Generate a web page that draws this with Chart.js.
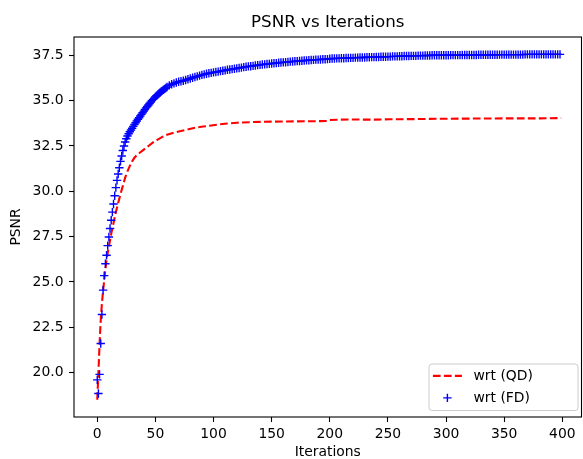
<!DOCTYPE html>
<html>
<head>
<meta charset="utf-8">
<script src="https://cdn.jsdelivr.net/npm/chart.js@4.4.1/dist/chart.umd.min.js"></script>
<style>
  html, body { margin: 0; padding: 0; background: #fff; }
  canvas { display: block; }
</style>
</head>
<body>
<canvas id="psnrChart" width="583" height="459"></canvas>
<script>
// psnr chart
const chartTitle = 'PSNR vs Iterations';
const xTitle = 'Iterations';
const yTitle = 'PSNR';
const seriesLabels = ['wrt (QD)', 'wrt (FD)'];
const xTicks = [0, 50, 100, 150, 200, 250, 300, 350, 400];
const yTicks = [20, 22.5, 25, 27.5, 30, 32.5, 35, 37.5];

// QD curve (dashed line)
const qdIter = [0, 1, 2, 3, 4, 5, 6, 7, 8, 9, 10, 11, 12, 13, 14, 15, 16, 17, 18, 19, 20,
    22, 24, 26, 28, 30, 32, 34, 36, 40, 44, 48, 52, 56, 60, 65, 70, 77, 84, 91, 98, 105, 112, 120,
    134, 150, 163, 180, 192, 198, 200, 209, 220, 235, 252, 270, 295, 320, 350, 381, 399];
const qdPsnr = [18.5, 20.0, 21.6, 22.9, 23.8, 24.5, 25.1, 25.7, 26.2, 26.6, 26.95, 27.3, 27.65, 27.95, 28.25, 28.55, 28.85, 29.1, 29.35, 29.6, 29.85,
    30.3, 30.75, 31.1, 31.4, 31.65, 31.85, 32.0, 32.1, 32.3, 32.5, 32.7, 32.85, 33.0, 33.12, 33.22, 33.3, 33.4, 33.5, 33.57, 33.63, 33.69, 33.74, 33.78,
    33.82, 33.84, 33.85, 33.86, 33.87, 33.88, 33.93, 33.95, 33.96, 33.95, 33.97, 33.98, 34.0, 34.01, 34.02, 34.02, 34.04];

// FD markers: every iteration 0..60
const fdEarly = [19.60, 18.85, 19.90, 21.60, 23.20, 24.55, 25.35, 26.00, 26.47, 27.00,
    27.48, 27.95, 28.40, 28.85, 29.30, 29.75, 30.20, 30.60, 30.95, 31.30,
    31.65, 31.95, 32.25, 32.50, 32.72, 32.90, 33.05, 33.17, 33.28, 33.38,
    33.48, 33.58, 33.68, 33.78, 33.88, 33.97, 34.06, 34.15, 34.24, 34.33,
    34.42, 34.51, 34.60, 34.68, 34.76, 34.84, 34.92, 35.00, 35.07, 35.14,
    35.21, 35.27, 35.33, 35.39, 35.45, 35.50, 35.55, 35.60, 35.65, 35.70,
    35.75];
// FD markers: every 2nd iteration 62..398
const fdLate = [35.84, 35.90, 35.95, 36.00, 36.04, 36.07, 36.10, 36.14, 36.18, 36.22,
    36.26, 36.30, 36.34, 36.38, 36.42, 36.45, 36.48, 36.51, 36.53, 36.56,
    36.58, 36.60, 36.63, 36.65, 36.67, 36.70, 36.72, 36.74, 36.76, 36.78,
    36.80, 36.82, 36.85, 36.87, 36.89, 36.90, 36.92, 36.94, 36.96, 36.97,
    36.99, 37.00, 37.02, 37.03, 37.05, 37.06, 37.07, 37.09, 37.10, 37.11,
    37.12, 37.13, 37.15, 37.16, 37.17, 37.18, 37.19, 37.20, 37.21, 37.22,
    37.23, 37.24, 37.25, 37.26, 37.26, 37.27, 37.28, 37.28, 37.29, 37.31,
    37.32, 37.32, 37.33, 37.33, 37.34, 37.34, 37.35, 37.35, 37.36, 37.36,
    37.37, 37.37, 37.38, 37.38, 37.38, 37.39, 37.39, 37.40, 37.40, 37.41,
    37.41, 37.42, 37.42, 37.42, 37.43, 37.43, 37.44, 37.44, 37.44, 37.45,
    37.45, 37.46, 37.46, 37.46, 37.47, 37.47, 37.47, 37.48, 37.48, 37.48,
    37.49, 37.49, 37.49, 37.50, 37.50, 37.50, 37.50, 37.50, 37.50, 37.50,
    37.50, 37.51, 37.51, 37.51, 37.51, 37.51, 37.52, 37.52, 37.52, 37.52,
    37.52, 37.52, 37.52, 37.53, 37.53, 37.53, 37.53, 37.53, 37.53, 37.53,
    37.53, 37.53, 37.54, 37.54, 37.54, 37.54, 37.54, 37.54, 37.54, 37.54,
    37.54, 37.54, 37.54, 37.55, 37.55, 37.55, 37.55, 37.55, 37.55, 37.55,
    37.55, 37.55, 37.55, 37.55, 37.55, 37.55, 37.55, 37.55, 37.55];

const FONT = "'DejaVu Sans', sans-serif";
const TXT = '#000';

const qdPoints = qdIter.map((it, i) => ({ x: it, y: qdPsnr[i] }));
const fdPoints = fdEarly.map((v, i) => ({ x: i, y: v }))
    .concat(fdLate.map((v, i) => ({ x: 62 + 2 * i, y: v })));

// axes frame (all four spines)
const framePlugin = {
    id: 'frame',
    afterDatasetsDraw(chart) {
        const { ctx, chartArea: a } = chart;
        ctx.save();
        ctx.strokeStyle = '#000';
        ctx.lineWidth = 1.1;
        ctx.strokeRect(a.left, a.top, a.right - a.left, a.bottom - a.top);
        ctx.restore();
    }
};

// title centred over the axes
const titlePlugin = {
    id: 'mplTitle',
    afterDraw(chart) {
        const { ctx, chartArea: a } = chart;
        ctx.save();
        ctx.font = `16.7px ${FONT}`;
        ctx.fillStyle = TXT;
        ctx.textAlign = 'center';
        ctx.textBaseline = 'alphabetic';
        ctx.fillText(chartTitle, (a.left + a.right) / 2, a.top - 10);
        ctx.restore();
    }
};

// legend box in the lower right of the axes
const legendPlugin = {
    id: 'mplLegend',
    afterDraw(chart) {
        const { ctx, chartArea: a } = chart;
        const w = 149, h = 46.5;
        const x = a.right - 4 - w, y = a.bottom - 7 - h;
        ctx.save();
        ctx.beginPath();
        ctx.roundRect(x + 0.5, y + 0.5, w, h, 3);
        ctx.fillStyle = 'rgba(255,255,255,0.8)';
        ctx.fill();
        ctx.strokeStyle = '#cccccc';
        ctx.lineWidth = 1;
        ctx.stroke();

        const ds = chart.data.datasets;
        const rows = [y + 12.4, y + 34.4];
        ds.forEach((d, i) => {
            const ry = rows[i];
            if (d.showLine !== false) {
                ctx.beginPath();
                ctx.setLineDash(d.borderDash || []);
                ctx.strokeStyle = d.borderColor;
                ctx.lineWidth = d.borderWidth;
                ctx.moveTo(x + 4.4, ry);
                ctx.lineTo(x + 33.4, ry);
                ctx.stroke();
                ctx.setLineDash([]);
            } else {
                const r = d.pointRadius, cx = x + 18.9;
                ctx.beginPath();
                ctx.strokeStyle = d.pointBorderColor;
                ctx.lineWidth = d.pointBorderWidth;
                ctx.moveTo(cx - r, ry); ctx.lineTo(cx + r, ry);
                ctx.moveTo(cx, ry - r); ctx.lineTo(cx, ry + r);
                ctx.stroke();
            }
            ctx.font = `13.9px ${FONT}`;
            ctx.fillStyle = TXT;
            ctx.textAlign = 'left';
            ctx.textBaseline = 'middle';
            ctx.fillText(d.label, x + 45, ry);
        });
        ctx.restore();
    }
};

new Chart(document.getElementById('psnrChart').getContext('2d'), {
    type: 'line',
    data: {
        datasets: [
            {
                label: seriesLabels[0],
                data: qdPoints,
                borderColor: '#ff0000',
                borderWidth: 2.1,
                borderDash: [7.7, 3.3],
                borderCapStyle: 'butt',
                pointRadius: 0,
                fill: false,
                tension: 0,
                order: 1
            },
            {
                label: seriesLabels[1],
                data: fdPoints,
                showLine: false,
                pointStyle: 'cross',
                pointRadius: 4.2,
                pointBorderWidth: 1.4,
                pointBorderColor: '#0000ff',
                pointBackgroundColor: '#0000ff',
                order: 0
            }
        ]
    },
    options: {
        responsive: false,
        animation: false,
        layout: { autoPadding: false, padding: { top: 37, right: 1.5, bottom: 0, left: 0 } },
        plugins: { legend: { display: false }, tooltip: { enabled: false }, title: { display: false } },
        scales: {
            x: {
                type: 'linear',
                min: -20,
                max: 416.5,
                afterBuildTicks: s => { s.ticks = xTicks.map(v => ({ value: v })); },
                afterFit: s => { s.height = 42; s.paddingLeft = 0; s.paddingRight = 0; },
                ticks: {
                    font: { family: FONT, size: 13.9 },
                    color: TXT,
                    padding: 4.5,
                    maxRotation: 0,
                    autoSkip: false,
                    callback: v => String(v)
                },
                grid: { drawOnChartArea: false, drawTicks: true, tickLength: 5, tickColor: '#000', tickWidth: 1.1 },
                border: { display: false },
                title: {
                    display: true,
                    text: xTitle,
                    color: TXT,
                    font: { family: FONT, size: 13.9, lineHeight: 1 },
                    padding: { top: 0, bottom: 0 }
                }
            },
            y: {
                type: 'linear',
                min: 17.55,
                max: 38.51,
                afterBuildTicks: s => { s.ticks = yTicks.map(v => ({ value: v })); },
                afterFit: s => { s.width = 74; s.paddingTop = 0; s.paddingBottom = 0; },
                ticks: {
                    font: { family: FONT, size: 13.9 },
                    color: TXT,
                    padding: 5.5,
                    autoSkip: false,
                    callback: v => Number(v).toFixed(1)
                },
                grid: { drawOnChartArea: false, drawTicks: true, tickLength: 5, tickColor: '#000', tickWidth: 1.1 },
                border: { display: false },
                title: {
                    display: true,
                    text: yTitle,
                    color: TXT,
                    font: { family: FONT, size: 13.9, lineHeight: 1.2 },
                    padding: { top: 8.4, bottom: 0 }
                }
            }
        }
    },
    plugins: [framePlugin, titlePlugin, legendPlugin]
});
</script>
</body>
</html>
